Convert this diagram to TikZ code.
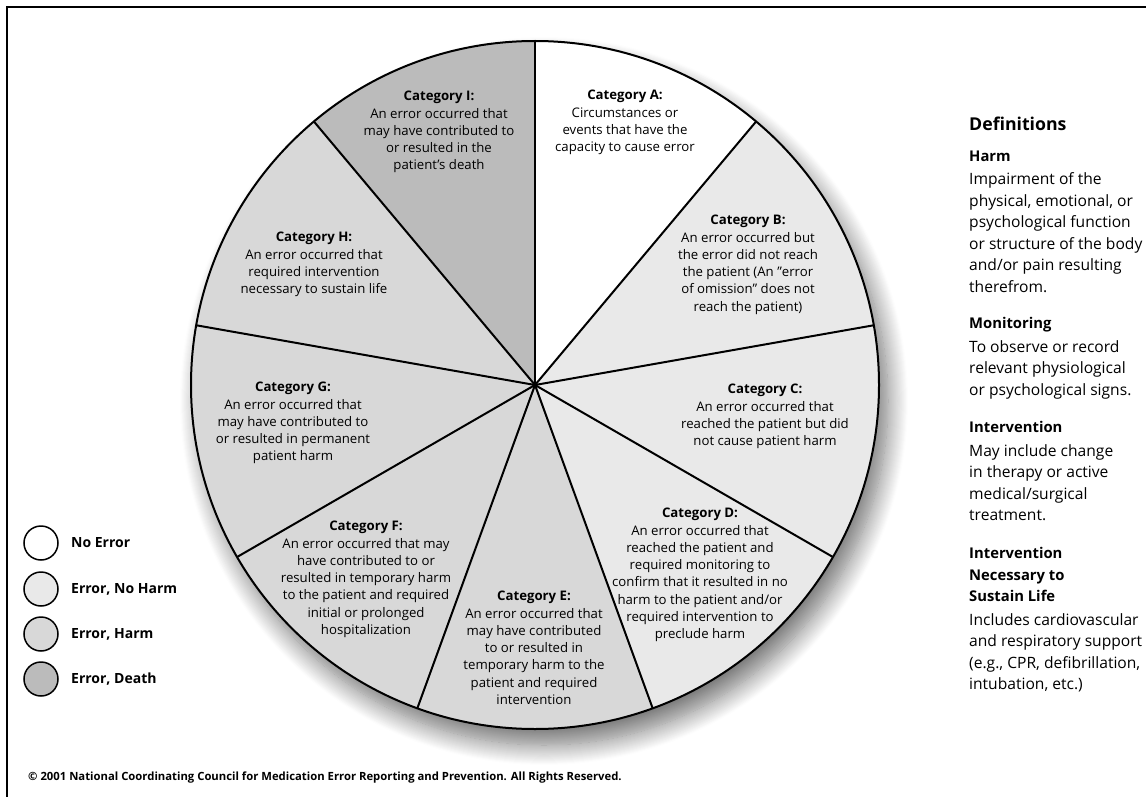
\documentclass[tikz,border=0pt]{standalone}
\usepackage{fontspec}
\setmainfont{Open Sans}
\usetikzlibrary{shadows.blur}
\definecolor{noerr}{HTML}{FFFFFF}
\definecolor{noharm}{HTML}{E9E9E9}
\definecolor{harm}{HTML}{D8D8D8}
\definecolor{death}{HTML}{BBBBBB}
\tikzset{
  slice/.style={draw=black, line width=2pt},
  pietext/.style={align=center, anchor=north, inner sep=0pt, font=\fontsize{13.2}{17.3}\selectfont},
  deftext/.style={align=left, anchor=north west, inner sep=0pt, font=\fontsize{15.6}{21.5}\selectfont},
  legcircle/.style={draw=black, line width=1.5pt, circle, minimum size=34pt, inner sep=0pt},
  legtext/.style={anchor=west, inner sep=0pt, font=\bfseries\fontsize{14}{16}\selectfont},
}
\newcommand{\hd}[1]{{\bfseries\fontsize{14.8}{21.5}\selectfont #1}}
\newcommand{\pieslice}[3]{%
  \fill[#3] (535,-385) -- ++(#1:344) arc[start angle=#1, end angle=#2, radius=344] -- cycle;}
\begin{document}
\begin{tikzpicture}[x=1pt,y=1pt]
\useasboundingbox (0,0) rectangle (1146,-797);
% frame
\draw[line width=1.5pt] (7,-797) -- (7,-7) -- (1146,-7);
% shadow
\fill[white, blur shadow={shadow xshift=9pt, shadow yshift=-16pt, shadow blur radius=20pt, shadow blur steps=20, shadow opacity=55}] (535,-385) circle[radius=344];
% slices
\pieslice{90}{50}{noerr}
\pieslice{50}{10}{noharm}
\pieslice{10}{-30}{noharm}
\pieslice{-30}{-70}{noharm}
\pieslice{-70}{-110}{harm}
\pieslice{-110}{-150}{harm}
\pieslice{-150}{-190}{harm}
\pieslice{170}{130}{harm}
\pieslice{130}{90}{death}
\coordinate (c) at (535,-385);
\foreach \a in {90,50,10,-30,-70,-110,-150,170,130}
  \draw[slice] (c) -- ++(\a:344);
\draw[slice] (c) circle[radius=344];
% pie texts
\node[pietext] (tA) at (625,-90) {\textbf{Category A:}\\Circumstances or\\events that have the\\capacity to cause error};
\node[pietext] (tB) at (748,-215) {\textbf{Category B:}\\An error occurred but\\the error did not reach\\the patient (An ”error\\of omission” does not\\reach the patient)};
\node[pietext] (tC) at (765,-384) {\textbf{Category C:}\\An error occurred that\\reached the patient but did\\not cause patient harm};
\node[pietext] (tD) at (700,-508) {\textbf{Category D:}\\An error occurred that\\reached the patient and\\required monitoring to\\confirm that it resulted in no\\harm to the patient and/or\\required intervention to\\preclude harm};
\node[pietext] (tE) at (534,-591) {\textbf{Category E:}\\An error occurred that\\may have contributed\\to or resulted in\\temporary harm to the\\patient and required\\intervention};
\node[pietext] (tF) at (366,-521) {\textbf{Category F:}\\An error occurred that may\\have contributed to or\\resulted in temporary harm\\to the patient and required\\initial or prolonged\\hospitalization};
\node[pietext] (tG) at (293,-382) {\textbf{Category G:}\\An error occurred that\\may have contributed to\\or resulted in permanent\\patient harm};
\node[pietext] (tH) at (314,-232) {\textbf{Category H:}\\An error occurred that\\required intervention\\necessary to sustain life};
\node[pietext] (tI) at (439,-91) {\textbf{Category I:}\\An error occurred that\\may have contributed to\\or resulted in the\\patient’s death};
% definitions
\node[anchor=north west, inner sep=0pt, font=\bfseries\fontsize{17.7}{22}\selectfont] (def) at (969,-116.5) {Definitions};
\node[deftext] (dharm) at (969,-150.5) {\hd{Harm}\\[2pt]Impairment of the\\physical, emotional, or\\psychological function\\or structure of the body\\and/or pain resulting\\therefrom.};
\node[deftext] (dmon) at (969,-317.5) {\hd{Monitoring}\\[2pt]To observe or record\\relevant physiological\\or psychological signs.};
\node[deftext] (dint) at (969,-421.5) {\hd{Intervention}\\[2pt]May include change\\in therapy or active\\medical/surgical\\treatment.};
\node[deftext] (dnec) at (969,-547.5) {\hd{Intervention}\\\hd{Necessary to}\\\hd{Sustain Life}\\[2pt]Includes cardiovascular\\and respiratory support\\(e.g., CPR, defibrillation,\\intubation, etc.)};
% legend
\node[legcircle, fill=noerr] (l1) at (41,-543) {};
\node[legcircle, fill=noharm] (l2) at (41,-589) {};
\node[legcircle, fill=harm] (l3) at (41,-634) {};
\node[legcircle, fill=death] (l4) at (41,-679) {};
\node[legtext] (lt1) at (71,-543) {No Error};
\node[legtext] (lt2) at (71,-589) {Error, No Harm};
\node[legtext] (lt3) at (71,-634) {Error, Harm};
\node[legtext] (lt4) at (71,-679) {Error, Death};
% copyright
\node[anchor=west, inner sep=0pt, font=\bfseries\fontsize{11.3}{13}\selectfont] (copy) at (28,-778) {© 2001 National Coordinating Council for Medication Error Reporting and Prevention. All Rights Reserved.};
\end{tikzpicture}
\end{document}
